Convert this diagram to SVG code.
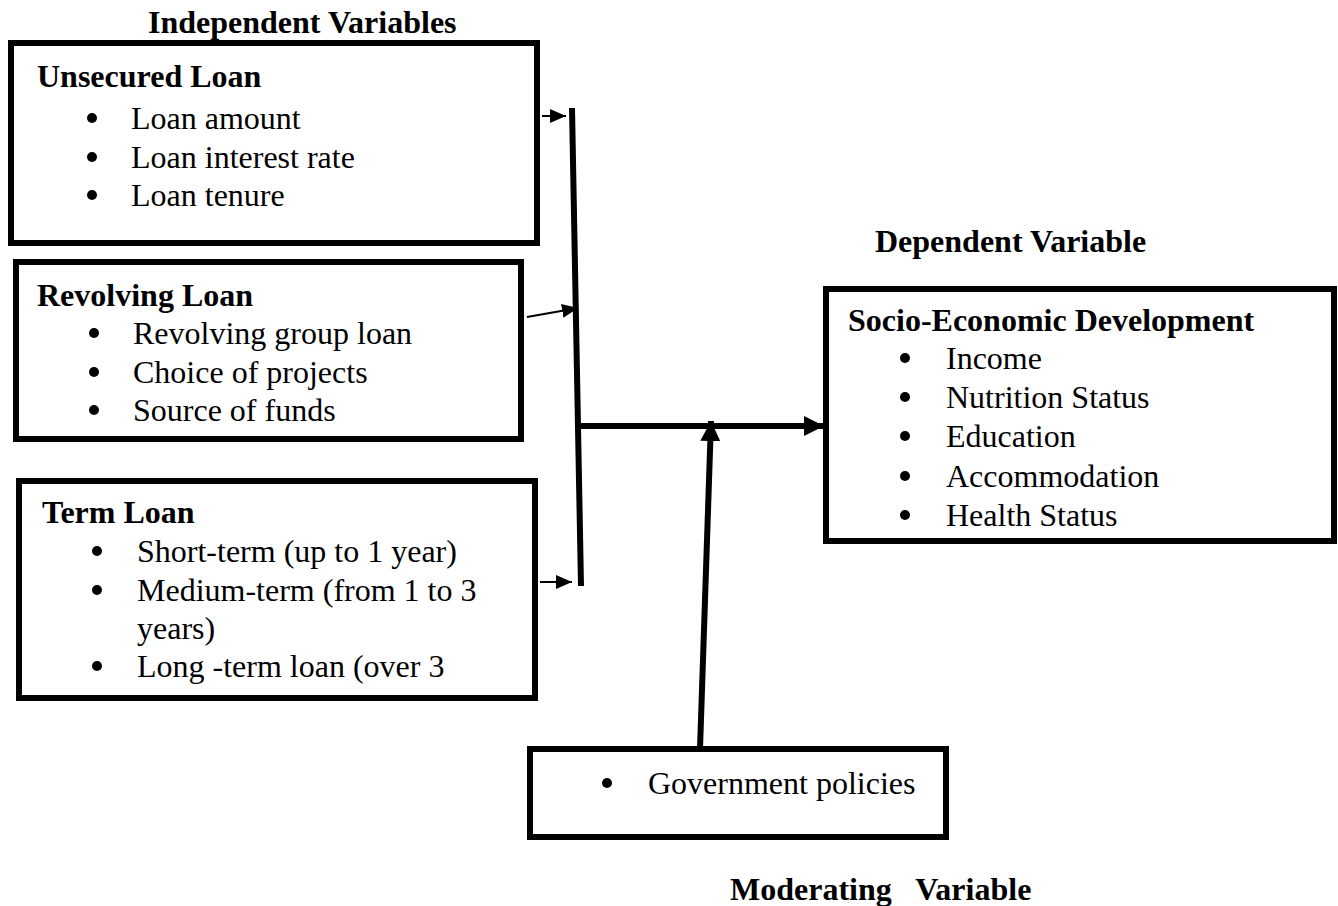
<svg xmlns="http://www.w3.org/2000/svg" width="1338" height="906" viewBox="0 0 1338 906">
<style>
.box{fill:#fff;stroke:#000;stroke-width:6}
.t{font-family:"Liberation Serif","Times New Roman",serif;font-size:32px;fill:#000}
.b{font-weight:bold}
.dot{fill:#000}
.thin{stroke:#000;stroke-width:2;fill:none}
.thick{stroke:#000;stroke-width:6;fill:none}
</style>
<defs>
<marker id="ah" markerUnits="userSpaceOnUse" markerWidth="16" markerHeight="14" refX="16" refY="7" orient="auto"><path d="M0,0 L16,7 L0,14 z" fill="#000"/></marker>
<marker id="AH" markerUnits="userSpaceOnUse" markerWidth="20" markerHeight="20" refX="20" refY="10" orient="auto"><path d="M0,0 L20,10 L0,20 z" fill="#000"/></marker>
</defs>
<rect width="1338" height="906" fill="#fff"/>
<text class="t b" x="148" y="33">Independent Variables</text>
<text class="t b" x="875" y="252">Dependent Variable</text>
<text class="t b" x="730" y="900" xml:space="preserve">Moderating   Variable</text>

<g id="unsecured">
<rect class="box" x="11" y="43" width="526" height="200"/>
<text class="t b" x="37" y="87">Unsecured Loan</text>
<circle class="dot" cx="92" cy="118" r="5"/><text class="t" x="131" y="129">Loan amount</text>
<circle class="dot" cx="92" cy="157" r="5"/><text class="t" x="131" y="168">Loan interest rate</text>
<circle class="dot" cx="92" cy="195" r="5"/><text class="t" x="131" y="206">Loan tenure</text>
</g>
<g id="revolving">
<rect class="box" x="16" y="262" width="505" height="177"/>
<text class="t b" x="37" y="306">Revolving Loan</text>
<circle class="dot" cx="94" cy="333" r="5"/><text class="t" x="133" y="344">Revolving group loan</text>
<circle class="dot" cx="94" cy="372" r="5"/><text class="t" x="133" y="383">Choice of projects</text>
<circle class="dot" cx="94" cy="410" r="5"/><text class="t" x="133" y="421">Source of funds</text>
</g>
<g id="term">
<rect class="box" x="19" y="481" width="516" height="217"/>
<text class="t b" x="42" y="523">Term Loan</text>
<circle class="dot" cx="97" cy="551" r="5"/><text class="t" x="137" y="562">Short-term (up to 1 year)</text>
<circle class="dot" cx="97" cy="590" r="5"/><text class="t" x="137" y="601">Medium-term (from 1 to 3</text>
<text class="t" x="137" y="639">years)</text>
<circle class="dot" cx="97" cy="666" r="5"/><text class="t" x="137" y="677">Long -term loan (over 3</text>
</g>
<g id="socio">
<rect class="box" x="826" y="289" width="508" height="252"/>
<text class="t b" x="848" y="331">Socio-Economic Development</text>
<circle class="dot" cx="905" cy="358" r="5"/><text class="t" x="946" y="369">Income</text>
<circle class="dot" cx="905" cy="397" r="5"/><text class="t" x="946" y="408">Nutrition Status</text>
<circle class="dot" cx="905" cy="436" r="5"/><text class="t" x="946" y="447">Education</text>
<circle class="dot" cx="905" cy="476" r="5"/><text class="t" x="946" y="487">Accommodation</text>
<circle class="dot" cx="905" cy="515" r="5"/><text class="t" x="946" y="526">Health Status</text>
</g>
<g id="government">
<rect class="box" x="530" y="749" width="416" height="88"/>
<circle class="dot" cx="607" cy="783" r="5"/><text class="t" x="648" y="794">Government policies</text>
</g>
<g id="connectors">
<line class="thick" x1="572" y1="108" x2="581" y2="586"/>
<line class="thin" x1="542" y1="116" x2="566" y2="116" marker-end="url(#ah)"/>
<line class="thin" x1="527" y1="317" x2="578" y2="308" marker-end="url(#ah)"/>
<line class="thin" x1="540" y1="582" x2="572" y2="582" marker-end="url(#ah)"/>
<line class="thick" x1="578" y1="426" x2="824" y2="426" marker-end="url(#AH)"/>
<line class="thick" x1="700" y1="749" x2="711" y2="421" marker-end="url(#AH)"/>
</g>
</svg>
